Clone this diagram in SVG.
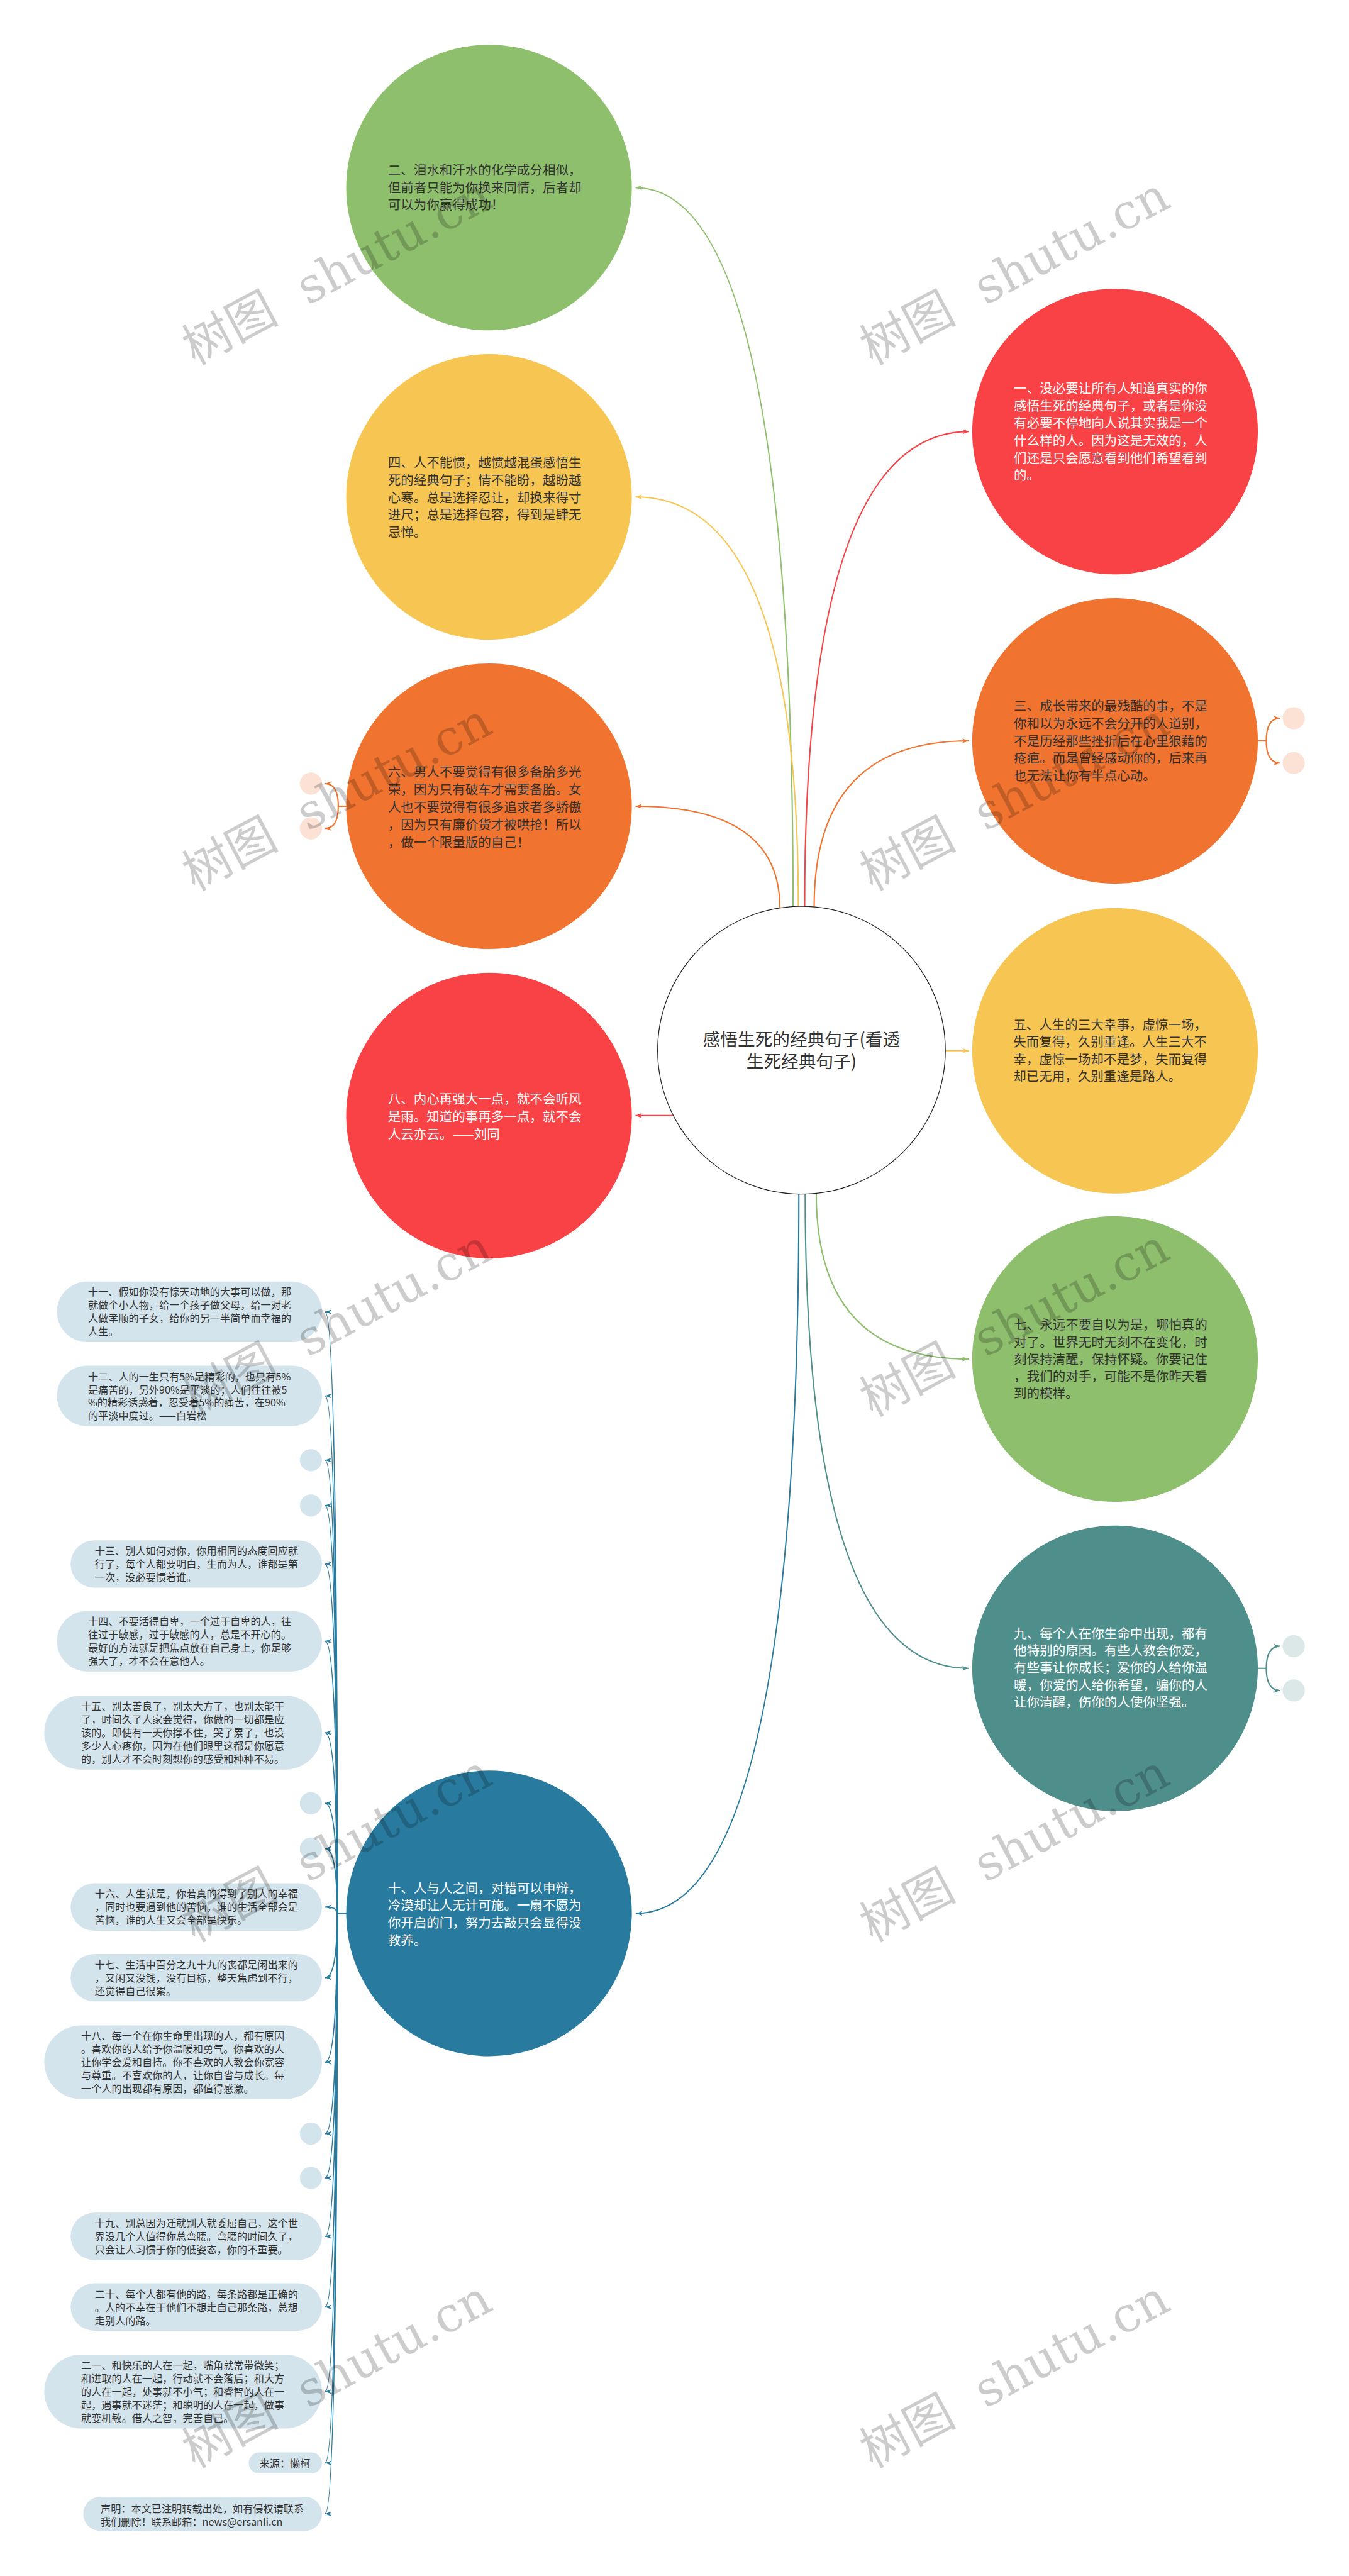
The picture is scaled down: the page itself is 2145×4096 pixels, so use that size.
<svg xmlns="http://www.w3.org/2000/svg" width="2145" height="4096" viewBox="0 0 2145 4096">
<defs>
<style>
text{font-family:"Noto Sans CJK SC","Noto Sans",sans-serif}
.c{font-size:24.5px}
.d{fill:#333333}
.w{fill:#ffffff}
.l{font-size:19.3px;fill:#333333}
.e{fill:none;stroke-width:2.5}
.pill{fill:#D3E4EC}
.dot{fill:#D3E4EC}
.po{fill:#FCE2D5}
.pt{fill:#DBE8E7}
.wm{font-family:"DejaVu Serif","Noto Sans CJK SC",serif;font-size:92px;fill:#000;fill-opacity:0.2;word-spacing:30px}
</style>
<marker id="aG" markerUnits="userSpaceOnUse" markerWidth="14" markerHeight="12" refX="12" refY="6" orient="auto"><path d="M0,1.5 L12,6 L0,10.5 L3,6z" fill="#8EBF6C"/></marker>
<marker id="aY" markerUnits="userSpaceOnUse" markerWidth="14" markerHeight="12" refX="12" refY="6" orient="auto"><path d="M0,1.5 L12,6 L0,10.5 L3,6z" fill="#F7C552"/></marker>
<marker id="aO" markerUnits="userSpaceOnUse" markerWidth="14" markerHeight="12" refX="12" refY="6" orient="auto"><path d="M0,1.5 L12,6 L0,10.5 L3,6z" fill="#F07430"/></marker>
<marker id="aR" markerUnits="userSpaceOnUse" markerWidth="14" markerHeight="12" refX="12" refY="6" orient="auto"><path d="M0,1.5 L12,6 L0,10.5 L3,6z" fill="#F84245"/></marker>
<marker id="aT" markerUnits="userSpaceOnUse" markerWidth="14" markerHeight="12" refX="12" refY="6" orient="auto"><path d="M0,1.5 L12,6 L0,10.5 L3,6z" fill="#4E8E8B"/></marker>
<marker id="aB" markerUnits="userSpaceOnUse" markerWidth="14" markerHeight="12" refX="12" refY="6" orient="auto"><path d="M0,1.5 L12,6 L0,10.5 L3,6z" fill="#287B9F"/></marker>
</defs>
<rect width="2145" height="4096" fill="#ffffff"/>
<g transform="scale(0.837890625)">

<g id="connectors">
<path class="e" stroke="#8EBF6C" marker-end="url(#aG)" d="M1505,1720 Q1505,356 1206,356"/>
<path class="e" stroke="#F7C552" marker-end="url(#aY)" d="M1515,1720 Q1515,943 1206,943"/>
<path class="e" stroke="#F07430" marker-end="url(#aO)" d="M1480,1723 Q1480,1530 1206,1530"/>
<path class="e" stroke="#F84245" marker-end="url(#aR)" d="M1278,2117 L1206,2117"/>
<path class="e" stroke="#F84245" marker-end="url(#aR)" d="M1527,1720 Q1527,819 1839,819"/>
<path class="e" stroke="#F07430" marker-end="url(#aO)" d="M1545,1721 Q1545,1406 1838,1406"/>
<path class="e" stroke="#F7C552" marker-end="url(#aY)" d="M1794,1994 L1839,1994"/>
<path class="e" stroke="#8EBF6C" marker-end="url(#aG)" d="M1549,2265 Q1549,2579 1838,2579"/>
<path class="e" stroke="#4E8E8B" marker-end="url(#aT)" d="M1528,2266 Q1528,3166 1838,3166"/>
<path class="e" stroke="#287B9F" marker-end="url(#aB)" d="M1516,2266 Q1516,3631 1207,3631"/>
<!-- brackets -->
<path class="e" stroke="#F07430" d="M658,1530 H642"/>
<path class="e" stroke="#F07430" marker-end="url(#aO)" d="M642,1530 Q642,1487 617,1487"/>
<path class="e" stroke="#F07430" marker-end="url(#aO)" d="M642,1530 Q642,1572 617,1572"/>
<path class="e" stroke="#F07430" d="M2387,1406 H2403"/>
<path class="e" stroke="#F07430" marker-end="url(#aO)" d="M2403,1406 Q2403,1363 2429,1363"/>
<path class="e" stroke="#F07430" marker-end="url(#aO)" d="M2403,1406 Q2403,1448 2429,1448"/>
<path class="e" stroke="#4E8E8B" d="M2387,3166 H2403"/>
<path class="e" stroke="#4E8E8B" marker-end="url(#aT)" d="M2403,3166 Q2403,3124 2429,3124"/>
<path class="e" stroke="#4E8E8B" marker-end="url(#aT)" d="M2403,3166 Q2403,3208 2429,3208"/>
<!-- list -->
<path class="e" stroke="#287B9F" d="M658,3631 H640"/>
<path class="e" stroke="#287B9F" marker-end="url(#aB)" d="M640,3631 Q640,2489.5 617,2489.5"/>
<path class="e" stroke="#287B9F" marker-end="url(#aB)" d="M640,3631 Q640,2649 617,2649"/>
<path class="e" stroke="#287B9F" marker-end="url(#aB)" d="M640,3631 Q640,2771 617,2771"/>
<path class="e" stroke="#287B9F" marker-end="url(#aB)" d="M640,3631 Q640,2857 617,2857"/>
<path class="e" stroke="#287B9F" marker-end="url(#aB)" d="M640,3631 Q640,2968 617,2968"/>
<path class="e" stroke="#287B9F" marker-end="url(#aB)" d="M640,3631 Q640,3114.5 617,3114.5"/>
<path class="e" stroke="#287B9F" marker-end="url(#aB)" d="M640,3631 Q640,3288 617,3288"/>
<path class="e" stroke="#287B9F" marker-end="url(#aB)" d="M640,3631 Q640,3422 617,3422"/>
<path class="e" stroke="#287B9F" marker-end="url(#aB)" d="M640,3631 Q640,3508 617,3508"/>
<path class="e" stroke="#287B9F" marker-end="url(#aB)" d="M640,3631 Q640,3619 617,3619"/>
<path class="e" stroke="#287B9F" marker-end="url(#aB)" d="M640,3631 Q640,3753 617,3753"/>
<path class="e" stroke="#287B9F" marker-end="url(#aB)" d="M640,3631 Q640,3913.5 617,3913.5"/>
<path class="e" stroke="#287B9F" marker-end="url(#aB)" d="M640,3631 Q640,4049 617,4049"/>
<path class="e" stroke="#287B9F" marker-end="url(#aB)" d="M640,3631 Q640,4133 617,4133"/>
<path class="e" stroke="#287B9F" marker-end="url(#aB)" d="M640,3631 Q640,4244 617,4244"/>
<path class="e" stroke="#287B9F" marker-end="url(#aB)" d="M640,3631 Q640,4378 617,4378"/>
<path class="e" stroke="#287B9F" marker-end="url(#aB)" d="M640,3631 Q640,4538.5 617,4538.5"/>
<path class="e" stroke="#287B9F" marker-end="url(#aB)" d="M640,3631 Q640,4674 617,4674"/>
<path class="e" stroke="#287B9F" marker-end="url(#aB)" d="M640,3631 Q640,4770.5 617,4770.5"/>
</g>

<g id="node-center">
<circle cx="1521" cy="1993" r="273" fill="#ffffff" stroke="#222222" stroke-width="1.5"/>
<text class="d" font-size="33" text-anchor="middle"><tspan x="1521" y="1984.5">感悟生死的经典句子(看透</tspan><tspan x="1521" y="2026.5">生死经典句子)</tspan></text>
</g>

<g id="node-2">
<circle cx="928" cy="356" r="271" fill="#8EBF6C"/>
<text class="c d"><tspan x="736" y="332">二、泪水和汗水的化学成分相似，</tspan><tspan x="736" y="365">但前者只能为你换来同情，后者却</tspan><tspan x="736" y="398">可以为你赢得成功！</tspan></text>
</g>

<g id="node-4">
<circle cx="928" cy="943" r="271" fill="#F7C552"/>
<text class="c d"><tspan x="736" y="886.5">四、人不能惯，越惯越混蛋感悟生</tspan><tspan x="736" y="919.8">死的经典句子；情不能盼，越盼越</tspan><tspan x="736" y="953">心寒。总是选择忍让，却换来得寸</tspan><tspan x="736" y="986.3">进尺；总是选择包容，得到是肆无</tspan><tspan x="736" y="1019.6">忌惮。</tspan></text>
</g>

<g id="node-6">
<circle cx="928" cy="1530" r="271" fill="#F07430"/>
<text class="c d"><tspan x="736" y="1474.5">六、男人不要觉得有很多备胎多光</tspan><tspan x="736" y="1507.7">荣，因为只有破车才需要备胎。女</tspan><tspan x="736" y="1540.9">人也不要觉得有很多追求者多骄傲</tspan><tspan x="736" y="1574.1">，因为只有廉价货才被哄抢！所以</tspan><tspan x="736" y="1607.3">，做一个限量版的自己！</tspan></text>
<circle class="po" cx="590" cy="1487" r="21"/>
<circle class="po" cx="590" cy="1572" r="21"/>
</g>

<g id="node-8">
<circle cx="928" cy="2117" r="271" fill="#F84245"/>
<text class="c w"><tspan x="736" y="2094">八、内心再强大一点，就不会听风</tspan><tspan x="736" y="2127.5">是雨。知道的事再多一点，就不会</tspan><tspan x="736" y="2161">人云亦云。——刘同</tspan></text>
</g>

<g id="node-10">
<circle cx="928" cy="3631" r="271" fill="#287B9F"/>
<text class="c w"><tspan x="736" y="3592">十、人与人之间，对错可以申辩，</tspan><tspan x="736" y="3625">冷漠却让人无计可施。一扇不愿为</tspan><tspan x="736" y="3658">你开启的门，努力去敲只会显得没</tspan><tspan x="736" y="3691">教养。</tspan></text>
</g>

<g id="node-1">
<circle cx="2116" cy="819" r="271" fill="#F84245"/>
<text class="c w"><tspan x="1924" y="746">一、没必要让所有人知道真实的你</tspan><tspan x="1924" y="779">感悟生死的经典句子，或者是你没</tspan><tspan x="1924" y="812">有必要不停地向人说其实我是一个</tspan><tspan x="1924" y="845">什么样的人。因为这是无效的，人</tspan><tspan x="1924" y="878">们还是只会愿意看到他们希望看到</tspan><tspan x="1924" y="911">的。</tspan></text>
</g>

<g id="node-3">
<circle cx="2116" cy="1406" r="271" fill="#F07430"/>
<text class="c d"><tspan x="1924" y="1349">三、成长带来的最残酷的事，不是</tspan><tspan x="1924" y="1382">你和以为永远不会分开的人道别，</tspan><tspan x="1924" y="1415">不是历经那些挫折后在心里狼藉的</tspan><tspan x="1924" y="1448">疮疤。而是曾经感动你的，后来再</tspan><tspan x="1924" y="1481">也无法让你有半点心动。</tspan></text>
<circle class="po" cx="2455" cy="1363" r="21"/>
<circle class="po" cx="2455" cy="1448" r="21"/>
</g>

<g id="node-5">
<circle cx="2116" cy="1994" r="271" fill="#F7C552"/>
<text class="c d"><tspan x="1923" y="1954">五、人生的三大幸事，虚惊一场，</tspan><tspan x="1923" y="1986.5">失而复得，久别重逢。人生三大不</tspan><tspan x="1923" y="2019">幸，虚惊一场却不是梦，失而复得</tspan><tspan x="1923" y="2051.5">却已无用，久别重逢是路人。</tspan></text>
</g>

<g id="node-7">
<circle cx="2116" cy="2579" r="271" fill="#8EBF6C"/>
<text class="c d"><tspan x="1924" y="2523">七、永远不要自以为是，哪怕真的</tspan><tspan x="1924" y="2556">对了。世界无时无刻不在变化，时</tspan><tspan x="1924" y="2588.5">刻保持清醒，保持怀疑。你要记住</tspan><tspan x="1924" y="2621">，我们的对手，可能不是你昨天看</tspan><tspan x="1924" y="2653.5">到的模样。</tspan></text>
</g>

<g id="node-9">
<circle cx="2116" cy="3166" r="271" fill="#4E8E8B"/>
<text class="c w"><tspan x="1924" y="3109">九、每个人在你生命中出现，都有</tspan><tspan x="1924" y="3141.5">他特别的原因。有些人教会你爱，</tspan><tspan x="1924" y="3174">有些事让你成长；爱你的人给你温</tspan><tspan x="1924" y="3206.5">暖，你爱的人给你希望，骗你的人</tspan><tspan x="1924" y="3239">让你清醒，伤你的人使你坚强。</tspan></text>
<circle class="pt" cx="2455" cy="3124" r="21"/>
<circle class="pt" cx="2455" cy="3208" r="21"/>
</g>

<g id="node-11">
<rect class="pill" x="108" y="2432" width="503" height="115" rx="57.5"/>
<text class="l"><tspan x="167" y="2459">十一、假如你没有惊天动地的大事可以做，那</tspan><tspan x="167" y="2484">就做个小人物，给一个孩子做父母，给一对老</tspan><tspan x="167" y="2509">人做孝顺的子女，给你的另一半简单而幸福的</tspan><tspan x="167" y="2534">人生。</tspan></text>
</g>
<g id="node-12">
<rect class="pill" x="108" y="2591.5" width="503" height="115" rx="57.5"/>
<text class="l"><tspan x="167" y="2620">十二、人的一生只有5%是精彩的，也只有5%</tspan><tspan x="167" y="2645">是痛苦的，另外90%是平淡的；人们往往被5</tspan><tspan x="167" y="2669">%的精彩诱惑着，忍受着5%的痛苦，在90%</tspan><tspan x="167" y="2694">的平淡中度过。——白岩松</tspan></text>
</g>
<g id="dot-1"><circle class="dot" cx="590" cy="2771" r="21"/></g>
<g id="dot-2"><circle class="dot" cx="590" cy="2857" r="21"/></g>
<g id="node-13">
<rect class="pill" x="134" y="2923" width="477" height="90" rx="45"/>
<text class="l"><tspan x="180" y="2950">十三、别人如何对你，你用相同的态度回应就</tspan><tspan x="180" y="2975">行了，每个人都要明白，生而为人，谁都是第</tspan><tspan x="180" y="3000">一次，没必要惯着谁。</tspan></text>
</g>
<g id="node-14">
<rect class="pill" x="108" y="3057" width="503" height="115" rx="57.5"/>
<text class="l"><tspan x="167" y="3084">十四、不要活得自卑，一个过于自卑的人，往</tspan><tspan x="167" y="3109">往过于敏感，过于敏感的人，总是不开心的。</tspan><tspan x="167" y="3134">最好的方法就是把焦点放在自己身上，你足够</tspan><tspan x="167" y="3159">强大了，才不会在意他人。</tspan></text>
</g>
<g id="node-15">
<rect class="pill" x="84" y="3218" width="527" height="140" rx="70"/>
<text class="l"><tspan x="154" y="3245">十五、别太善良了，别太大方了，也别太能干</tspan><tspan x="154" y="3270">了，时间久了人家会觉得，你做的一切都是应</tspan><tspan x="154" y="3295">该的。即使有一天你撑不住，哭了累了，也没</tspan><tspan x="154" y="3320">多少人心疼你，因为在他们眼里这都是你愿意</tspan><tspan x="154" y="3345">的，别人才不会时刻想你的感受和种种不易。</tspan></text>
</g>
<g id="dot-3"><circle class="dot" cx="590" cy="3422" r="21"/></g>
<g id="dot-4"><circle class="dot" cx="590" cy="3508" r="21"/></g>
<g id="node-16">
<rect class="pill" x="134" y="3574" width="477" height="90" rx="45"/>
<text class="l"><tspan x="180" y="3601">十六、人生就是，你若真的得到了别人的幸福</tspan><tspan x="180" y="3626">，同时也要遇到他的苦恼，谁的生活全部会是</tspan><tspan x="180" y="3651">苦恼，谁的人生又会全部是快乐。</tspan></text>
</g>
<g id="node-17">
<rect class="pill" x="134" y="3708" width="477" height="90" rx="45"/>
<text class="l"><tspan x="180" y="3736">十七、生活中百分之九十九的丧都是闲出来的</tspan><tspan x="180" y="3761">，又闲又没钱，没有目标，整天焦虑到不行，</tspan><tspan x="180" y="3786">还觉得自己很累。</tspan></text>
</g>
<g id="node-18">
<rect class="pill" x="84" y="3843.5" width="527" height="140" rx="70"/>
<text class="l"><tspan x="154" y="3870.5">十八、每一个在你生命里出现的人，都有原因</tspan><tspan x="154" y="3895.5">。喜欢你的人给予你温暖和勇气。你喜欢的人</tspan><tspan x="154" y="3920.5">让你学会爱和自持。你不喜欢的人教会你宽容</tspan><tspan x="154" y="3945.5">与尊重。不喜欢你的人，让你自省与成长。每</tspan><tspan x="154" y="3970.5">一个人的出现都有原因，都值得感激。</tspan></text>
</g>
<g id="dot-5"><circle class="dot" cx="590" cy="4049" r="21"/></g>
<g id="dot-6"><circle class="dot" cx="590" cy="4133" r="21"/></g>
<g id="node-19">
<rect class="pill" x="134" y="4199" width="477" height="90" rx="45"/>
<text class="l"><tspan x="180" y="4226">十九、别总因为迁就别人就委屈自己，这个世</tspan><tspan x="180" y="4251">界没几个人值得你总弯腰。弯腰的时间久了，</tspan><tspan x="180" y="4276">只会让人习惯于你的低姿态，你的不重要。</tspan></text>
</g>
<g id="node-20">
<rect class="pill" x="134" y="4333" width="477" height="90" rx="45"/>
<text class="l"><tspan x="180" y="4361">二十、每个人都有他的路，每条路都是正确的</tspan><tspan x="180" y="4386">。人的不幸在于他们不想走自己那条路，总想</tspan><tspan x="180" y="4411">走别人的路。</tspan></text>
</g>
<g id="node-21">
<rect class="pill" x="84" y="4468.5" width="527" height="140" rx="70"/>
<text class="l"><tspan x="154" y="4495.5">二一、和快乐的人在一起，嘴角就常带微笑；</tspan><tspan x="154" y="4520.5">和进取的人在一起，行动就不会落后；和大方</tspan><tspan x="154" y="4545.5">的人在一起，处事就不小气；和睿智的人在一</tspan><tspan x="154" y="4570.5">起，遇事就不迷茫；和聪明的人在一起，做事</tspan><tspan x="154" y="4595.5">就变机敏。借人之智，完善自己。</tspan></text>
</g>
<g id="node-source">
<rect class="pill" x="472" y="4654" width="139" height="40" rx="20"/>
<text class="l" x="492.5" y="4682">来源：懒柯</text>
</g>
<g id="node-statement">
<rect class="pill" x="158" y="4738" width="453" height="65" rx="32.5"/>
<text class="l"><tspan x="191" y="4767.5">声明：本文已注明转载出处，如有侵权请联系</tspan><tspan x="191" y="4792.5">我们删除！联系邮箱：news@ersanli.cn</tspan></text>
</g>

<g id="watermarks">
<text class="wm" text-anchor="middle" dominant-baseline="central" transform="translate(639,514) rotate(-28)">树图 shutu.cn</text>
<text class="wm" text-anchor="middle" dominant-baseline="central" transform="translate(1925,514) rotate(-28)">树图 shutu.cn</text>
<text class="wm" text-anchor="middle" dominant-baseline="central" transform="translate(639,1512) rotate(-28)">树图 shutu.cn</text>
<text class="wm" text-anchor="middle" dominant-baseline="central" transform="translate(1925,1512) rotate(-28)">树图 shutu.cn</text>
<text class="wm" text-anchor="middle" dominant-baseline="central" transform="translate(639,2510) rotate(-28)">树图 shutu.cn</text>
<text class="wm" text-anchor="middle" dominant-baseline="central" transform="translate(1925,2510) rotate(-28)">树图 shutu.cn</text>
<text class="wm" text-anchor="middle" dominant-baseline="central" transform="translate(639,3507) rotate(-28)">树图 shutu.cn</text>
<text class="wm" text-anchor="middle" dominant-baseline="central" transform="translate(1925,3507) rotate(-28)">树图 shutu.cn</text>
<text class="wm" text-anchor="middle" dominant-baseline="central" transform="translate(639,4505) rotate(-28)">树图 shutu.cn</text>
<text class="wm" text-anchor="middle" dominant-baseline="central" transform="translate(1925,4505) rotate(-28)">树图 shutu.cn</text>
</g>

</g>
</svg>
